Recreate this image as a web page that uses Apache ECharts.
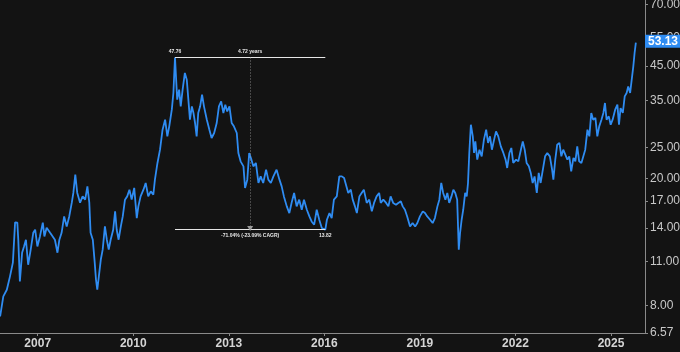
<!DOCTYPE html>
<html>
<head>
<meta charset="utf-8">
<script src="https://cdn.jsdelivr.net/npm/echarts@6/dist/echarts.min.js"></script>
<style>
html, body { margin: 0; background: #131313; }
#main { width: 680px; height: 352px; }
</style>
</head>
<body>
<div id="main"></div>
<script>
// dates as decimal years, prices
var dates = [
    2005.82, 2005.92, 2006.03, 2006.13, 2006.22, 2006.29, 2006.36, 2006.39, 2006.44, 2006.51,
    2006.57, 2006.63, 2006.70, 2006.78, 2006.86, 2006.92, 2006.99, 2007.07, 2007.16, 2007.21,
    2007.28, 2007.39, 2007.47, 2007.54, 2007.62, 2007.68, 2007.75, 2007.83, 2007.91, 2007.99,
    2008.07, 2008.12, 2008.18, 2008.24, 2008.33, 2008.41, 2008.49, 2008.56, 2008.62, 2008.66,
    2008.73, 2008.79, 2008.83, 2008.87, 2008.92, 2008.98, 2009.04, 2009.11, 2009.17, 2009.23,
    2009.29, 2009.37, 2009.43, 2009.48, 2009.54, 2009.61, 2009.67, 2009.74, 2009.81, 2009.88,
    2009.95, 2010.03, 2010.11, 2010.16, 2010.23, 2010.32, 2010.39, 2010.47, 2010.55, 2010.63,
    2010.68, 2010.76, 2010.84, 2010.92, 2011.00, 2011.07, 2011.13, 2011.21, 2011.26, 2011.31,
    2011.38, 2011.44, 2011.49, 2011.55, 2011.62, 2011.68, 2011.73, 2011.78, 2011.84, 2011.89,
    2011.94, 2011.99, 2012.04, 2012.10, 2012.16, 2012.22, 2012.31, 2012.39, 2012.46, 2012.54,
    2012.62, 2012.69, 2012.76, 2012.83, 2012.89, 2012.95, 2013.02, 2013.09, 2013.16, 2013.25,
    2013.30, 2013.37, 2013.46, 2013.51, 2013.58, 2013.64, 2013.71, 2013.77, 2013.85, 2013.93,
    2014.00, 2014.08, 2014.17, 2014.24, 2014.32, 2014.40, 2014.50, 2014.59, 2014.66, 2014.73,
    2014.82, 2014.90, 2014.97, 2015.05, 2015.13, 2015.21, 2015.29, 2015.36, 2015.45, 2015.53,
    2015.60, 2015.68, 2015.76, 2015.84, 2015.92, 2016.03, 2016.08, 2016.16, 2016.23, 2016.30,
    2016.39, 2016.47, 2016.55, 2016.62, 2016.68, 2016.75, 2016.83, 2016.89, 2016.96, 2017.02,
    2017.10, 2017.17, 2017.24, 2017.33, 2017.41, 2017.49, 2017.56, 2017.64, 2017.72, 2017.77,
    2017.85, 2017.94, 2018.01, 2018.08, 2018.16, 2018.25, 2018.32, 2018.40, 2018.46, 2018.53,
    2018.60, 2018.69, 2018.77, 2018.85, 2018.92, 2019.00, 2019.09, 2019.16, 2019.23, 2019.32,
    2019.40, 2019.47, 2019.55, 2019.61, 2019.67, 2019.73, 2019.80, 2019.86, 2019.92, 2019.99,
    2020.05, 2020.11, 2020.17, 2020.22, 2020.26, 2020.31, 2020.36, 2020.42, 2020.47, 2020.51,
    2020.55, 2020.60, 2020.66, 2020.70, 2020.74, 2020.80, 2020.87, 2020.94, 2021.01, 2021.08,
    2021.14, 2021.20, 2021.26, 2021.33, 2021.39, 2021.46, 2021.54, 2021.62, 2021.69, 2021.74,
    2021.81, 2021.87, 2021.93, 2022.02, 2022.09, 2022.17, 2022.23, 2022.29, 2022.35, 2022.42,
    2022.48, 2022.54, 2022.60, 2022.67, 2022.73, 2022.79, 2022.86, 2022.93, 2023.00, 2023.08,
    2023.15, 2023.19, 2023.25, 2023.31, 2023.38, 2023.44, 2023.50, 2023.56, 2023.63, 2023.69,
    2023.75, 2023.82, 2023.88, 2023.94, 2024.00, 2024.07, 2024.13, 2024.19, 2024.26, 2024.32,
    2024.38, 2024.44, 2024.51, 2024.57, 2024.63, 2024.70, 2024.76, 2024.81, 2024.86, 2024.93,
    2024.99, 2025.05, 2025.13, 2025.20, 2025.25, 2025.30, 2025.37, 2025.43, 2025.49, 2025.54,
    2025.60, 2025.65, 2025.70, 2025.74, 2025.78
];
var prices = [
    7.40, 8.55, 8.97, 9.88, 10.90, 14.57, 14.54, 12.86, 9.53, 11.71,
    12.25, 12.86, 10.74, 11.97, 13.52, 13.82, 12.25, 13.17, 14.54, 13.17,
    14.02, 13.52, 13.17, 12.86, 11.71, 12.86, 13.52, 15.21, 14.15, 15.21,
    16.79, 18.05, 20.54, 18.05, 16.79, 17.57, 17.16, 18.88, 16.79, 13.52,
    12.86, 10.90, 9.64, 8.97, 9.88, 11.13, 11.97, 14.15, 12.86, 11.97,
    12.86, 13.82, 15.77, 13.82, 12.86, 14.15, 15.21, 17.16, 17.57, 18.44,
    17.16, 18.67, 15.03, 16.35, 17.57, 18.44, 19.35, 17.57, 18.22, 17.79,
    19.82, 22.35, 24.59, 28.40, 30.52, 27.07, 29.09, 32.80, 36.99, 47.76,
    35.25, 37.88, 33.59, 37.88, 42.72, 40.71, 35.25, 30.52, 33.59, 32.03,
    29.80, 27.07, 32.03, 33.59, 36.54, 33.59, 30.52, 28.40, 26.75, 27.73,
    29.80, 33.59, 34.82, 32.03, 34.00, 32.40, 33.59, 29.80, 29.09, 27.73,
    24.02, 22.61, 21.81, 18.67, 19.82, 24.02, 22.89, 21.81, 22.35, 19.35,
    20.29, 19.35, 21.30, 19.82, 19.35, 20.29, 21.30, 19.82, 18.88, 17.57,
    16.35, 15.58, 16.76, 18.01, 16.35, 17.16, 15.96, 17.16, 15.96, 15.21,
    14.67, 14.33, 15.96, 14.85, 13.99, 13.82, 14.85, 15.58, 15.03, 17.16,
    17.57, 20.29, 20.29, 20.06, 19.82, 18.01, 18.44, 17.16, 16.35, 15.58,
    17.57, 18.01, 18.44, 16.76, 17.16, 15.77, 16.76, 17.57, 18.01, 16.76,
    17.16, 16.76, 16.35, 17.57, 16.76, 16.55, 16.76, 16.95, 16.35, 15.96,
    15.21, 14.15, 14.50, 14.15, 14.50, 15.21, 15.77, 15.58, 15.21, 14.85,
    14.50, 15.03, 16.35, 17.16, 19.35, 18.01, 17.16, 18.01, 16.76, 17.57,
    18.44, 18.01, 17.16, 11.97, 13.49, 14.85, 15.96, 18.01, 17.57, 19.35,
    24.02, 29.44, 27.07, 24.02, 26.11, 22.89, 24.59, 23.44, 26.43, 28.40,
    25.81, 27.07, 24.59, 26.43, 28.06, 27.07, 25.18, 24.02, 22.89, 21.56,
    24.02, 24.90, 22.35, 22.89, 22.61, 24.59, 26.11, 24.59, 22.35, 21.81,
    20.80, 19.35, 20.29, 18.01, 20.80, 19.35, 21.30, 23.44, 24.02, 23.44,
    21.30, 19.82, 22.89, 25.50, 25.81, 23.44, 24.59, 24.90, 22.89, 23.44,
    21.04, 23.17, 22.61, 25.18, 22.61, 22.35, 22.07, 24.59, 28.40, 27.07,
    32.03, 30.52, 30.90, 27.07, 29.09, 30.52, 32.03, 34.42, 30.52, 31.26,
    29.44, 30.52, 32.80, 34.00, 29.44, 33.20, 32.03, 36.10, 36.99, 38.79,
    36.99, 40.71, 44.80, 49.33, 53.13
];
var yTicks = [6.57, 8, 11, 14, 17, 20, 25, 35, 45, 55, 70];
var xTicks = [2007, 2010, 2013, 2016, 2019, 2022, 2025];

// drawdown annotation
var peak = [2011.31, 47.76];
var trough = [2016.03, 13.82];
var spanText = '4.72 years';
var changeText = '-71.04% (-23.09% CAGR)';
var lastPrice = 53.13;

var lg = Math.log10;
var blue = '#2f8cf2';
var annot = '#e6e6e6';

var chart = echarts.init(document.getElementById('main'));

var seriesData = dates.map(function (d, i) { return [d, lg(prices[i])]; });
var midYear = (peak[0] + trough[0]) / 2;

function textPoint(x, v, text, pos) {
    return {
        coord: [x, lg(v)],
        symbol: 'circle',
        symbolSize: 1,
        itemStyle: { color: 'rgba(0,0,0,0)' },
        label: {
            show: true,
            position: pos,
            distance: 3,
            formatter: text,
            color: annot,
            fontSize: 5,
            fontWeight: 'bold',
            fontFamily: 'Arial'
        }
    };
}

var option = {
    backgroundColor: '#131313',
    animation: false,
    grid: { left: 0, right: 35, top: 0, bottom: 19, containLabel: false, outerBoundsMode: 'none' },
    xAxis: {
        type: 'value',
        min: 2005.816,
        max: 2026.067,
        axisLine: { lineStyle: { color: '#8a8a8a', width: 1 } },
        axisTick: { show: true, customValues: xTicks, length: 3, lineStyle: { color: '#8a8a8a' } },
        axisLabel: {
            customValues: xTicks,
            margin: 5,
            color: '#d4d4d4',
            fontSize: 12,
            fontWeight: 'bold',
            fontFamily: 'Arial',
            formatter: function (v) { return String(Math.round(v)); }
        },
        splitLine: { show: false }
    },
    yAxis: {
        type: 'value',
        position: 'right',
        min: lg(6.57),
        max: lg(72.25),
        axisLine: { show: true, lineStyle: { color: '#8a8a8a', width: 1 } },
        axisTick: { show: true, customValues: yTicks.map(lg), length: 3, lineStyle: { color: '#8a8a8a' } },
        axisLabel: {
            customValues: yTicks.map(lg),
            margin: 5,
            color: '#c8c8c8',
            fontSize: 12,
            fontFamily: 'Arial',
            formatter: function (v) { return Math.pow(10, v).toFixed(2); }
        },
        splitLine: { show: false }
    },
    series: [
        {
            type: 'line',
            data: seriesData,
            showSymbol: false,
            lineStyle: { color: blue, width: 1.8 },
            markLine: {
                silent: true,
                symbol: ['none', 'none'],
                z: 10,
                data: [
                    [
                        { coord: [peak[0], lg(peak[1])], lineStyle: { color: annot, width: 1.2, type: 'solid' }, label: { show: false } },
                        { coord: [trough[0], lg(peak[1])] }
                    ],
                    [
                        { coord: [peak[0], lg(trough[1])], lineStyle: { color: annot, width: 1.2, type: 'solid' }, label: { show: false } },
                        { coord: [trough[0], lg(trough[1])] }
                    ],
                    [
                        { coord: [midYear, lg(peak[1])], lineStyle: { color: '#9a9a9a', width: 0.8, type: [1, 2] }, label: { show: false } },
                        { coord: [midYear, lg(trough[1]) + 0.004], symbol: 'triangle', symbolSize: [6, 5] }
                    ]
                ]
            },
            markPoint: {
                silent: true,
                z: 10,
                data: [
                    textPoint(peak[0], peak[1], peak[1].toFixed(2), 'top'),
                    textPoint(midYear, peak[1], spanText, 'top'),
                    textPoint(midYear, trough[1], changeText, 'bottom'),
                    textPoint(trough[0], trough[1], trough[1].toFixed(2), 'bottom')
                ]
            }
        },
        {
            // last price tag on the axis
            type: 'line',
            data: [],
            z: 20,
            markLine: {
                silent: true,
                symbol: ['none', 'none'],
                data: [{
                    yAxis: lg(lastPrice),
                    lineStyle: { color: 'rgba(0,0,0,0)', width: 0 },
                    label: {
                        show: true,
                        position: 'end',
                        distance: 0,
                        formatter: lastPrice.toFixed(2),
                        color: '#ffffff',
                        backgroundColor: blue,
                        fontSize: 12,
                        fontWeight: 'bold',
                        fontFamily: 'Arial',
                        padding: [1, 3, 0, 3],
                        width: 29
                    }
                }]
            }
        }
    ]
};

chart.setOption(option);
</script>
</body>
</html>
